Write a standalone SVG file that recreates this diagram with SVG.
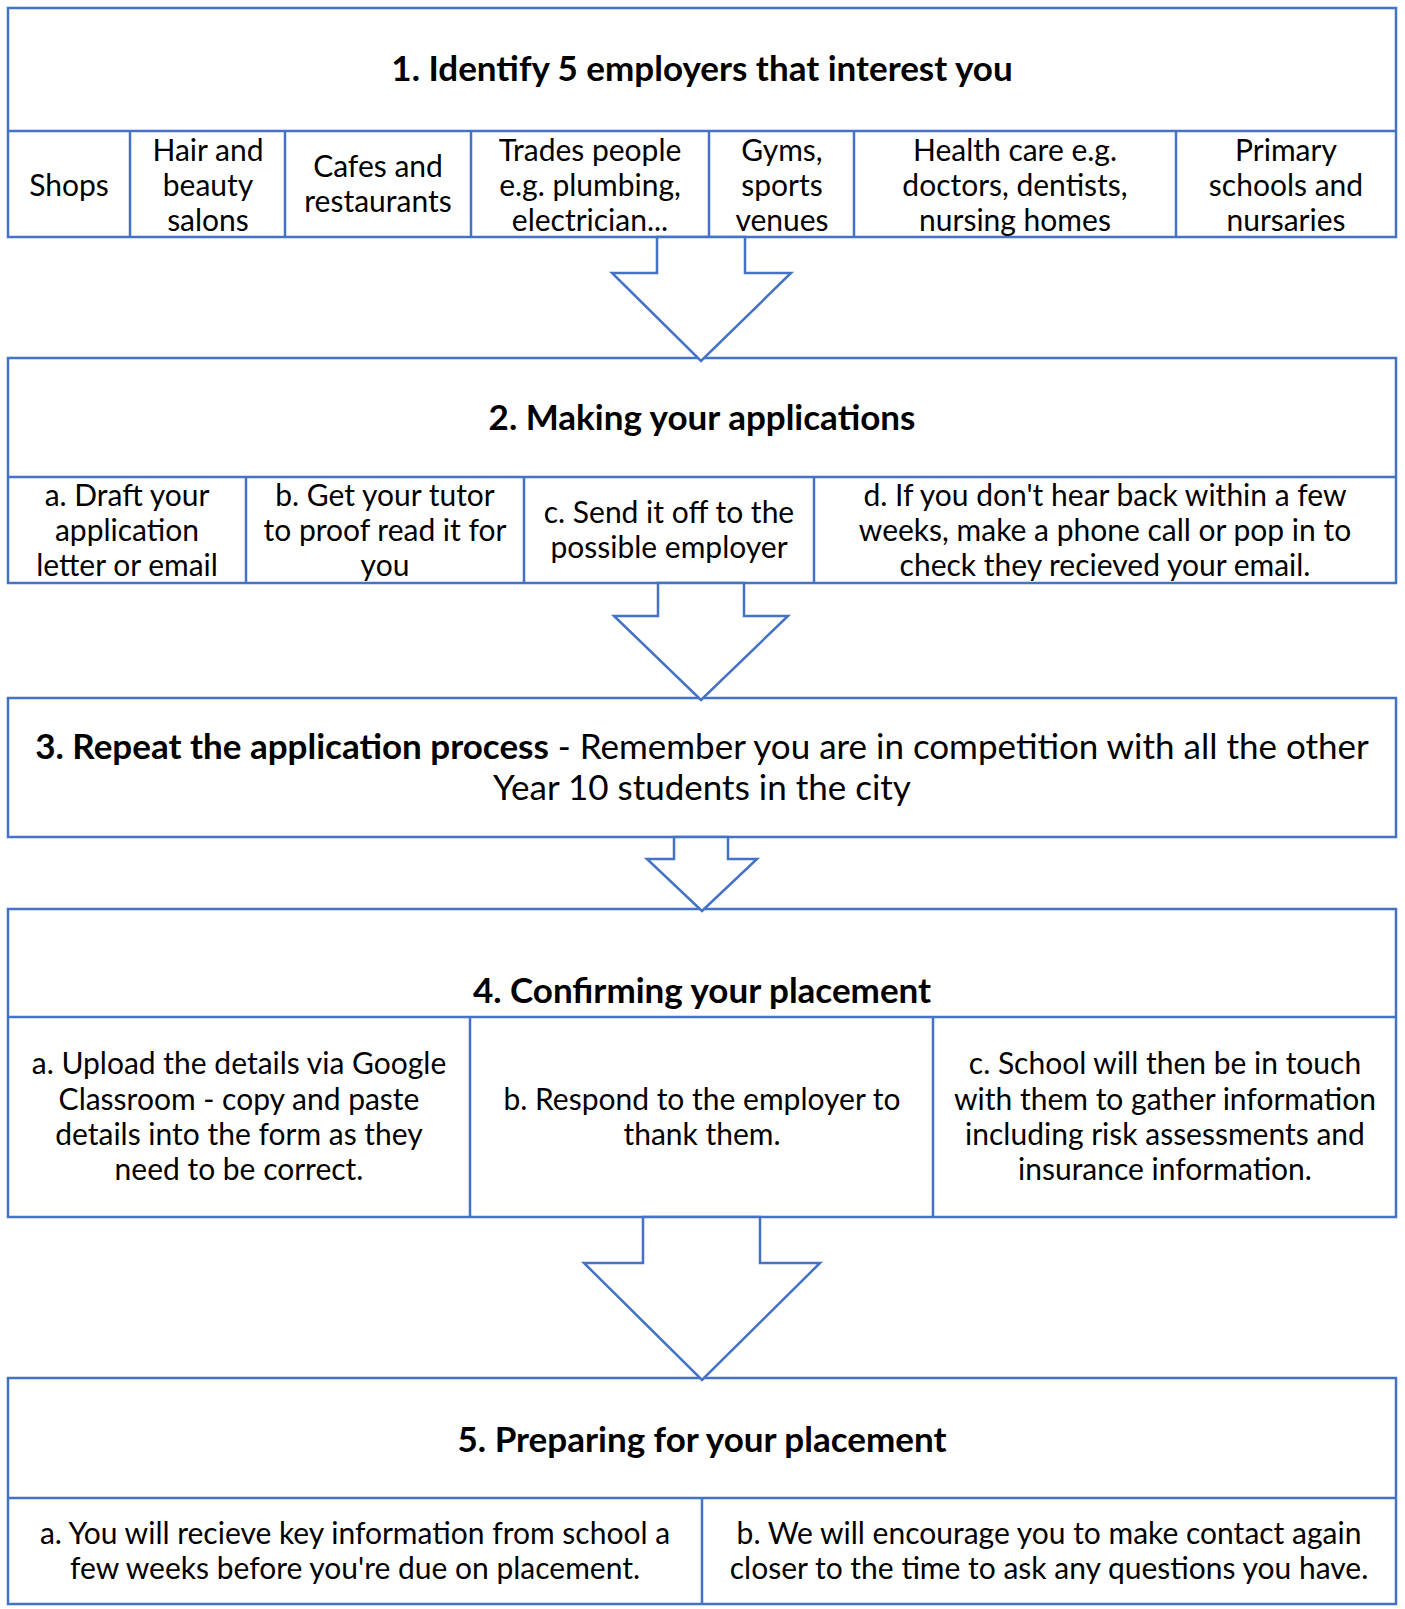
<svg xmlns="http://www.w3.org/2000/svg" width="1405" height="1609" viewBox="0 0 1405 1609">
<style>
.bx{fill:#fff;stroke:#4472C4;stroke-width:2.5}
.ln{stroke:#4472C4;stroke-width:2.5;fill:none}
.ar{fill:#fff;stroke:#4472C4;stroke-width:2.5;stroke-linejoin:miter}
text{font-family:Lato,"Liberation Sans",sans-serif;fill:#000;text-anchor:middle}
.h{font-size:35px;font-weight:bold}
.t{font-size:30px}
.t3{font-size:35px}
</style>
<rect width="1405" height="1609" fill="#fff"/>
<g id="step1">
<rect class="bx" x="8" y="8" width="1388" height="229"/>
<line class="ln" x1="8" y1="131" x2="1396" y2="131"/>
<line class="ln" x1="130" y1="131" x2="130" y2="237"/>
<line class="ln" x1="285" y1="131" x2="285" y2="237"/>
<line class="ln" x1="471" y1="131" x2="471" y2="237"/>
<line class="ln" x1="709" y1="131" x2="709" y2="237"/>
<line class="ln" x1="854" y1="131" x2="854" y2="237"/>
<line class="ln" x1="1176" y1="131" x2="1176" y2="237"/>
<text class="h" x="702" y="81">1. Identify 5 employers that interest you</text>
<text class="t" x="69" y="196">Shops</text>
<text class="t" x="208" y="161">Hair and</text>
<text class="t" x="208" y="196">beauty</text>
<text class="t" x="208" y="231">salons</text>
<text class="t" x="378" y="177">Cafes and</text>
<text class="t" x="378" y="212">restaurants</text>
<text class="t" x="590" y="161">Trades people</text>
<text class="t" x="590" y="196">e.g. plumbing,</text>
<text class="t" x="590" y="231">electrician...</text>
<text class="t" x="782" y="161">Gyms,</text>
<text class="t" x="782" y="196">sports</text>
<text class="t" x="782" y="231">venues</text>
<text class="t" x="1015" y="161">Health care e.g.</text>
<text class="t" x="1015" y="196">doctors, dentists,</text>
<text class="t" x="1015" y="231">nursing homes</text>
<text class="t" x="1286" y="161">Primary</text>
<text class="t" x="1286" y="196">schools and</text>
<text class="t" x="1286" y="231">nursaries</text>
</g>
<g id="step2">
<rect class="bx" x="8" y="358" width="1388" height="225"/>
<line class="ln" x1="8" y1="477" x2="1396" y2="477"/>
<line class="ln" x1="246" y1="477" x2="246" y2="583"/>
<line class="ln" x1="524" y1="477" x2="524" y2="583"/>
<line class="ln" x1="814" y1="477" x2="814" y2="583"/>
<text class="h" x="702" y="430">2. Making your applications</text>
<text class="t" x="127" y="506">a. Draft your</text>
<text class="t" x="127" y="541">application</text>
<text class="t" x="127" y="576">letter or email</text>
<text class="t" x="385" y="506">b. Get your tutor</text>
<text class="t" x="385" y="541">to proof read it for</text>
<text class="t" x="385" y="576">you</text>
<text class="t" x="669" y="523">c. Send it off to the</text>
<text class="t" x="669" y="558">possible employer</text>
<text class="t" x="1105" y="506">d. If you don't hear back within a few</text>
<text class="t" x="1105" y="541">weeks, make a phone call or pop in to</text>
<text class="t" x="1105" y="576">check they recieved your email.</text>
</g>
<g id="step3">
<rect class="bx" x="8" y="698" width="1388" height="139"/>
<text class="t3" x="702" y="759"><tspan font-weight="bold">3. Repeat the application process</tspan> - Remember you are in competition with all the other</text>
<text class="t3" x="702" y="800">Year 10 students in the city</text>
</g>
<g id="step4">
<rect class="bx" x="8" y="909" width="1388" height="308"/>
<line class="ln" x1="8" y1="1017" x2="1396" y2="1017"/>
<line class="ln" x1="470" y1="1017" x2="470" y2="1217"/>
<line class="ln" x1="933" y1="1017" x2="933" y2="1217"/>
<text class="h" x="702" y="1003">4. Confirming your placement</text>
<text class="t" x="239" y="1074">a. Upload the details via Google</text>
<text class="t" x="239" y="1110">Classroom - copy and paste</text>
<text class="t" x="239" y="1145">details into the form as they</text>
<text class="t" x="239" y="1180">need to be correct.</text>
<text class="t" x="702" y="1110">b. Respond to the employer to</text>
<text class="t" x="702" y="1145">thank them.</text>
<text class="t" x="1165" y="1074">c. School will then be in touch</text>
<text class="t" x="1165" y="1110">with them to gather information</text>
<text class="t" x="1165" y="1145">including risk assessments and</text>
<text class="t" x="1165" y="1180">insurance information.</text>
</g>
<g id="step5">
<rect class="bx" x="8" y="1378" width="1388" height="226"/>
<line class="ln" x1="8" y1="1498" x2="1396" y2="1498"/>
<line class="ln" x1="702" y1="1498" x2="702" y2="1604"/>
<text class="h" x="702" y="1452">5. Preparing for your placement</text>
<text class="t" x="355" y="1544">a. You will recieve key information from school a</text>
<text class="t" x="355" y="1579">few weeks before you're due on placement.</text>
<text class="t" x="1049" y="1544">b. We will encourage you to make contact again</text>
<text class="t" x="1049" y="1579">closer to the time to ask any questions you have.</text>
</g>
<g id="connectors">
<polygon class="ar" points="657,237 745,237 745,273 791,273 701,361 612,273 657,273"/>
<polygon class="ar" points="658,583 744,583 744,616 788,616 701,700 614,616 658,616"/>
<polygon class="ar" points="674,837 728,837 728,859 757,859 702,911 647,859 674,859"/>
<polygon class="ar" points="643,1217 760,1217 760,1263 820,1263 702,1380 584,1263 643,1263"/>
</g>
</svg>
